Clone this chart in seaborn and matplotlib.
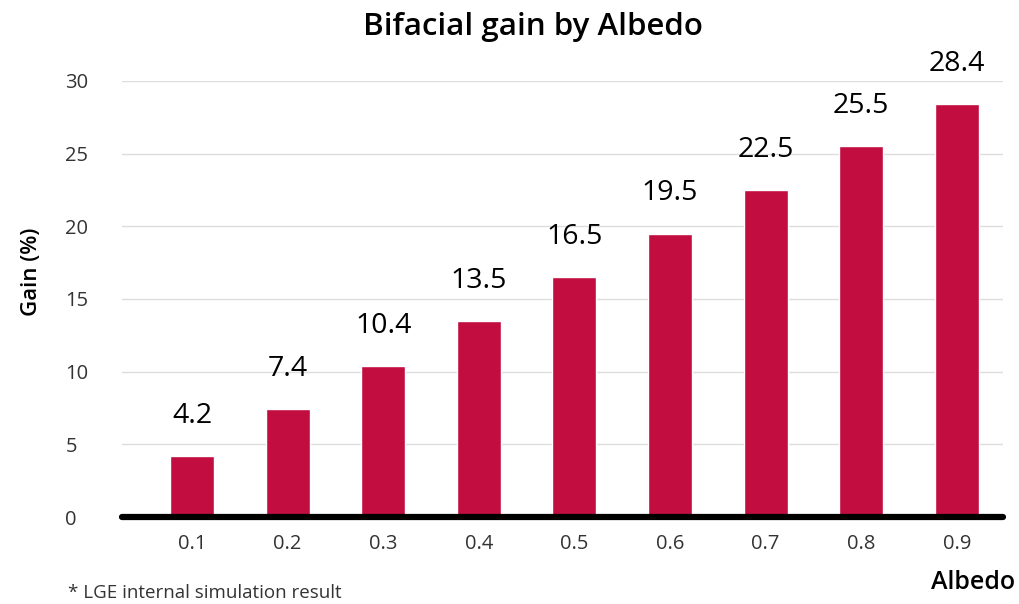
import matplotlib
matplotlib.use("Agg")
import matplotlib.pyplot as plt
import seaborn as sns
import pandas as pd

albedo = ["0.1", "0.2", "0.3", "0.4", "0.5", "0.6", "0.7", "0.8", "0.9"]
gain = [4.2, 7.4, 10.4, 13.5, 16.5, 19.5, 22.5, 25.5, 28.4]
yticks = [0, 5, 10, 15, 20, 25, 30]

sns.set_theme(style="white")
plt.rcParams['font.family'] = ['Open Sans', 'DejaVu Sans']

df = pd.DataFrame({"Albedo": albedo, "Gain": gain})

fig = plt.figure(figsize=(10.19, 6.04), dpi=100)
ax = fig.add_axes([0.12, 0.144, 0.864, 0.722])

sns.barplot(data=df, x="Albedo", y="Gain", color="#C10D40", width=0.46,
            saturation=1, ax=ax, zorder=2)

ax.set_ylim(0, 30)
ax.set_xlim(-0.73, 8.48)
ax.set_yticks(yticks)
ax.set_yticklabels([str(t) for t in yticks], color="#333333", fontsize=14.5)
ax.tick_params(axis="x", colors="#333333", labelsize=14.5, length=0, pad=12)
ax.tick_params(axis="y", length=0, pad=41)
for lab in ax.get_yticklabels():
    lab.set_horizontalalignment("left")

for t in [5, 10, 15, 20, 25, 30]:
    ax.axhline(t, color="#dddddd", lw=1, zorder=1)
ax.axhline(0, color="black", lw=4.5, zorder=3, clip_on=False)

for sp in ax.spines.values():
    sp.set_visible(False)

for i, v in enumerate(gain):
    ax.text(i, v + 1.8, f"{v}", ha="center", va="bottom", fontsize=20.5,
            color="black", clip_on=False)

ax.set_xlabel("")
ax.set_ylabel("")
fig.text(0.523, 0.955, "Bifacial gain by Albedo", ha="center", va="center",
         fontsize=22.5, fontweight="semibold", color="black")
fig.text(0.031, 0.55, "Gain (%)", rotation=90, ha="center", va="center",
         fontsize=16, fontweight="semibold", color="black")
fig.text(0.996, 0.036, "Albedo", ha="right", va="center",
         fontsize=18, fontweight="semibold", color="black")
fig.text(0.067, 0.018, "* LGE internal simulation result", ha="left", va="center",
         fontsize=13.5, color="#333333")

fig.savefig("out.png", dpi=100)
